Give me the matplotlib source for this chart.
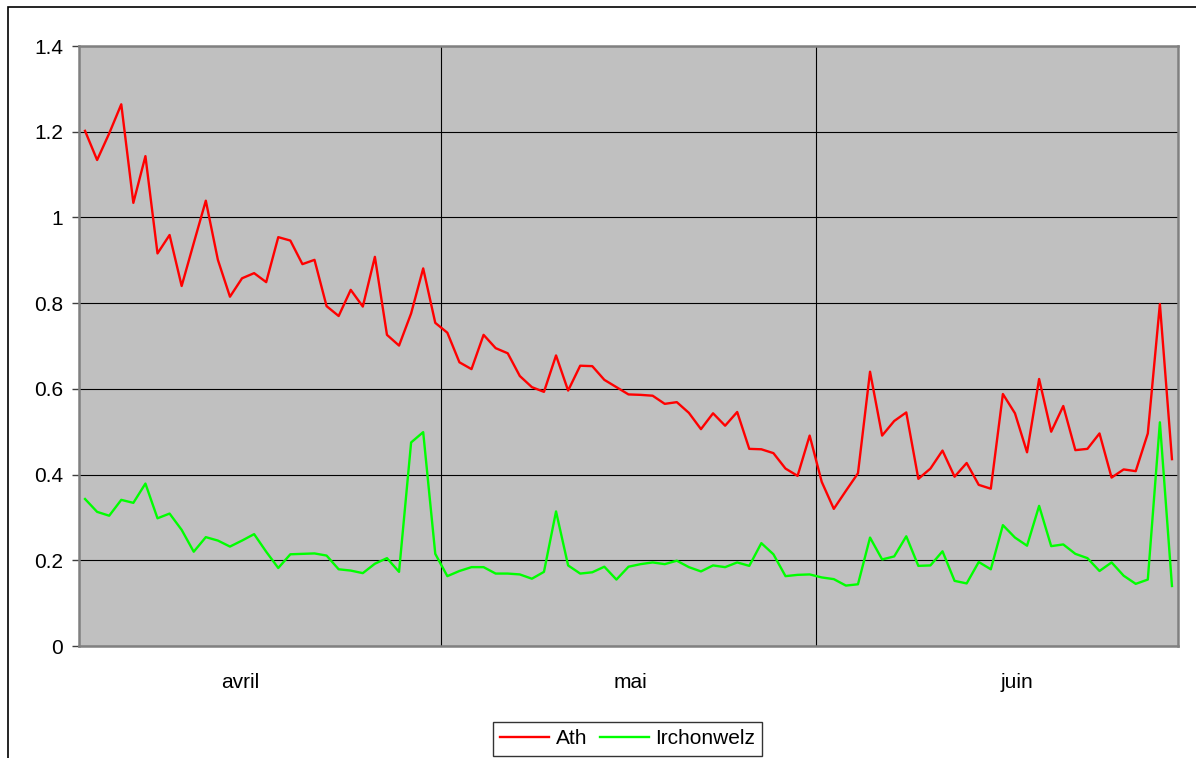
import matplotlib
matplotlib.use("Agg")
import matplotlib.pyplot as plt
from matplotlib.patches import Rectangle
import numpy as np

plt.rcParams['font.family'] = ['Liberation Sans', 'DejaVu Sans']

months = ["avril", "mai", "juin"]
days_per_month = [30, 31, 30]

ath_avril = [1.202, 1.134, 1.196, 1.264, 1.034, 1.143, 0.916, 0.959, 0.840, 0.940,
             1.039, 0.901, 0.815, 0.858, 0.870, 0.849, 0.954, 0.946, 0.891, 0.901,
             0.793, 0.770, 0.831, 0.792, 0.908, 0.726, 0.701, 0.776, 0.881, 0.754]
ath_mai = [0.731, 0.662, 0.646, 0.726, 0.695, 0.683, 0.630, 0.604, 0.593, 0.678,
           0.596, 0.654, 0.653, 0.621, 0.604, 0.587, 0.586, 0.584, 0.565, 0.569,
           0.544, 0.506, 0.543, 0.514, 0.546, 0.460, 0.459, 0.450, 0.414, 0.397, 0.491]
ath_juin = [0.383, 0.320, 0.362, 0.403, 0.640, 0.491, 0.525, 0.545, 0.390, 0.414,
            0.456, 0.395, 0.427, 0.376, 0.367, 0.588, 0.543, 0.452, 0.623, 0.500,
            0.560, 0.457, 0.460, 0.496, 0.393, 0.412, 0.408, 0.496, 0.798, 0.436]

irch_avril = [0.343, 0.313, 0.304, 0.341, 0.334, 0.379, 0.298, 0.309, 0.271, 0.220,
              0.254, 0.246, 0.232, 0.246, 0.261, 0.220, 0.182, 0.214, 0.215, 0.216,
              0.211, 0.179, 0.176, 0.170, 0.192, 0.205, 0.173, 0.475, 0.499, 0.215]
irch_mai = [0.163, 0.175, 0.184, 0.184, 0.169, 0.169, 0.167, 0.157, 0.173, 0.314,
            0.188, 0.169, 0.172, 0.185, 0.155, 0.185, 0.191, 0.195, 0.191, 0.199,
            0.184, 0.174, 0.188, 0.184, 0.195, 0.187, 0.240, 0.214, 0.163, 0.166, 0.167]
irch_juin = [0.160, 0.156, 0.141, 0.144, 0.253, 0.202, 0.209, 0.256, 0.187, 0.188,
             0.221, 0.152, 0.146, 0.196, 0.179, 0.282, 0.253, 0.234, 0.327, 0.233,
             0.237, 0.215, 0.205, 0.175, 0.195, 0.164, 0.145, 0.155, 0.522, 0.140]

y_ticks = [0, 0.2, 0.4, 0.6, 0.8, 1.0, 1.2, 1.4]
y_tick_labels = ["0", "0.2", "0.4", "0.6", "0.8", "1", "1.2", "1.4"]

ath = ath_avril + ath_mai + ath_juin
irch = irch_avril + irch_mai + irch_juin
x = np.arange(len(ath))

FS = 15

fig = plt.figure(figsize=(11.96, 7.58), dpi=100)
W, H = 1196, 758
ax = fig.add_axes([79 / W, 1 - 646 / H, 1099 / W, 600 / H])
ax.set_facecolor('#C0C0C0')

ax.plot(x, ath, color='#FF0000', lw=1.7, label='Ath', zorder=3)
ax.plot(x, irch, color='#00FF00', lw=1.7, label='Irchonwelz', zorder=3)

ax.set_xlim(-0.5, len(ath) - 0.5)
ax.set_ylim(0, 1.4)
ax.set_yticks(y_ticks)
ax.set_yticklabels(y_tick_labels, fontsize=FS)
ax.yaxis.grid(True, color='black', lw=0.8)

# month boundaries
bounds = np.cumsum(days_per_month)[:-1] - 0.5
ax.set_xticks(bounds)
ax.set_xticklabels([])
ax.xaxis.grid(True, color='black', lw=0.8)
ax.tick_params(axis='x', which='major', length=0)
ax.set_axisbelow(True)

label_pos = [12.83, 45.2, 77.2]
ax.set_xticks(label_pos, minor=True)
ax.set_xticklabels(months, minor=True, fontsize=FS)
ax.tick_params(axis='x', which='minor', length=0, pad=19.5)

ax.tick_params(axis='y', length=5, width=1, color='#404040', pad=6.5)

for side in ['left', 'right', 'top', 'bottom']:
    ax.spines[side].set_color('#808080')
    ax.spines[side].set_linewidth(1.8)

leg = fig.legend(loc='center', bbox_to_anchor=(627.5 / W, 1 - 739 / H), ncol=2,
                 fontsize=FS, frameon=True, fancybox=False, edgecolor='black',
                 handlelength=2.35, handletextpad=0.3, columnspacing=0.6,
                 borderpad=0.35, borderaxespad=0)
leg.get_frame().set_linewidth(1.0)

fig.patches.append(Rectangle((8 / W, -0.1), 1.2, 1 - 7 / H + 0.1,
                             transform=fig.transFigure, fill=False,
                             edgecolor='black', lw=1.2))

fig.savefig('out.png', dpi=100)
